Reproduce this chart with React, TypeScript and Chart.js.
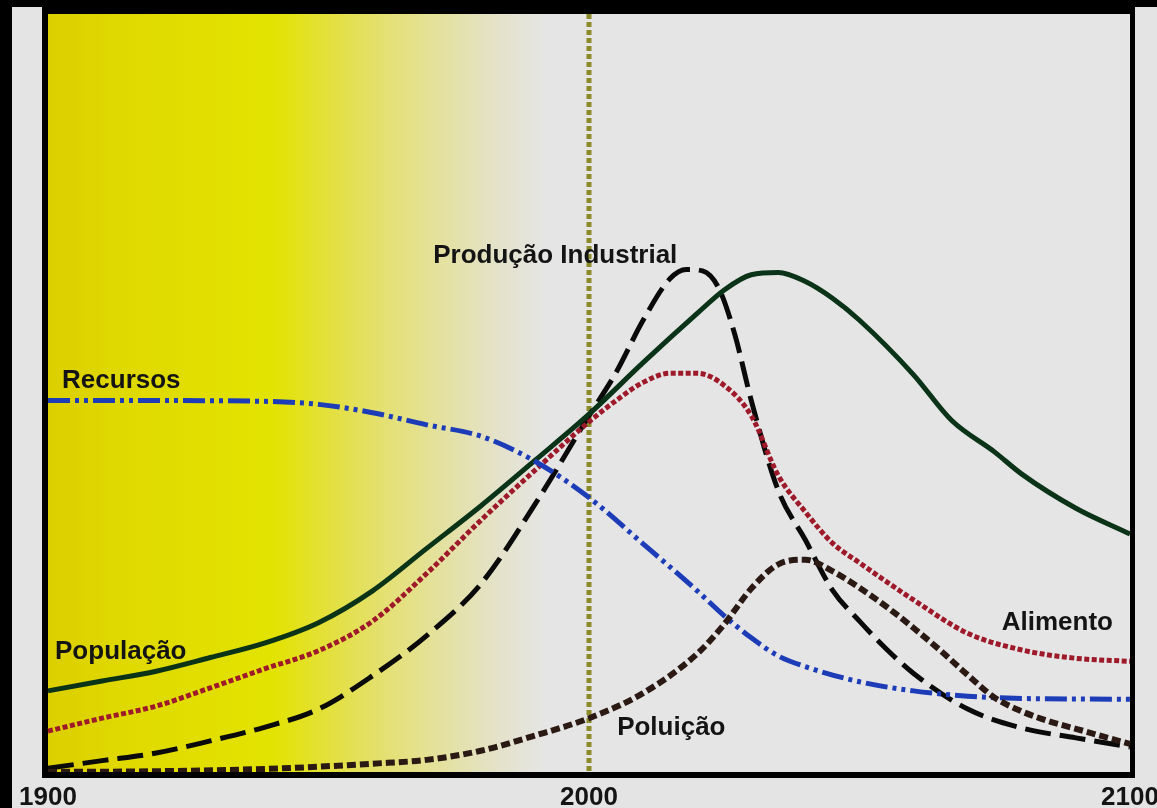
import React, { useEffect, useRef } from 'react';
import { Chart, registerables } from 'chart.js';

Chart.register(...registerables);

// ---- data ----
const tickYears = [1900, 2000, 2100];
const tickLabels = ['1900', '2000', '2100'];
const markerYear = 2000;

const populationYears = [1900, 1910, 1920, 1930, 1940, 1950, 1960, 1970, 1980, 1990, 2000, 2010, 2020, 2025, 2030, 2035, 2040, 2045, 2050, 2060, 2067, 2075, 2080, 2090, 2100];
const populationValues = [10.7, 12.0, 13.3, 15.1, 17.0, 19.7, 23.9, 29.5, 35.1, 41.1, 47.2, 54.0, 60.5, 63.6, 65.6, 65.9, 64.7, 62.5, 59.6, 52.4, 46.4, 42.2, 39.3, 34.8, 31.4];

const foodYears = [1900, 1910, 1920, 1930, 1940, 1950, 1960, 1970, 1980, 1990, 2000, 2005, 2010, 2015, 2020, 2025, 2030, 2035, 2040, 2045, 2050, 2060, 2070, 2080, 2090, 2100];
const foodValues = [5.4, 7.1, 8.7, 11.1, 13.6, 16.0, 19.9, 26.2, 33.2, 39.8, 46.2, 49.0, 51.4, 52.6, 52.6, 51.0, 47.0, 39.1, 34.3, 30.2, 27.6, 22.7, 18.3, 16.1, 15.0, 14.6];

const industryYears = [1900, 1910, 1920, 1930, 1940, 1950, 1960, 1970, 1980, 1990, 2000, 2005, 2010, 2015, 2018, 2021, 2024, 2027, 2030, 2035, 2040, 2045, 2050, 2055, 2060, 2070, 2080, 2090, 2100];
const industryValues = [0.5, 1.5, 2.5, 4.1, 5.9, 8.3, 12.7, 18.0, 24.8, 35.3, 47.0, 52.7, 59.6, 65.1, 66.3, 66.1, 63.8, 57.6, 49.0, 37.1, 30.6, 24.0, 19.9, 16.2, 13.0, 8.3, 5.8, 4.5, 3.3];

const resourceYears = [1900, 1920, 1940, 1950, 1960, 1970, 1980, 1990, 2000, 2010, 2020, 2025, 2030, 2035, 2040, 2050, 2060, 2070, 2080, 2100];
const resourceValues = [49.0, 49.0, 48.9, 48.5, 47.4, 45.8, 44.3, 41.0, 36.2, 30.1, 23.9, 20.6, 17.7, 15.3, 13.9, 11.9, 10.7, 10.0, 9.7, 9.6];

const pollutionYears = [1900, 1920, 1940, 1950, 1960, 1970, 1980, 1990, 2000, 2010, 2020, 2025, 2030, 2035, 2040, 2045, 2050, 2055, 2060, 2065, 2070, 2075, 2080, 2085, 2090, 2095, 2100];
const pollutionValues = [0.0, 0.1, 0.4, 0.7, 1.1, 1.6, 2.8, 4.8, 7.1, 10.4, 15.6, 19.5, 24.2, 27.4, 28.0, 26.5, 24.3, 21.8, 19.0, 16.0, 12.8, 9.8, 8.0, 6.7, 5.7, 4.7, 3.7];

const seriesNames = ['Recursos', 'População', 'Produção Industrial', 'Poluição', 'Alimento'];
// label anchor (year, value) for each annotation, same order as seriesNames
const noteYears = [1902.6, 1901.3, 1971.2, 2005.2, 2076.3];
const noteValues = [50.7, 14.9, 67.2, 4.9, 18.7];

const toPoints = (xs: number[], ys: number[]) => xs.map((x, i) => ({ x, y: ys[i] }));

const FONT = 'bold 26px "Liberation Sans", Arial, sans-serif';

const decorPlugin = {
  id: 'decor',
  beforeDraw(chart: any) {
    const { ctx, chartArea: a, width: W, height: H } = chart;
    const xs = chart.scales.x;
    ctx.save();
    ctx.fillStyle = '#e4e4e4';
    ctx.fillRect(0, 0, W, H);
    ctx.fillStyle = '#000';
    ctx.fillRect(0, 0, W, 7);
    ctx.fillRect(0, 0, 12, H);
    // plot background with yellow fade
    ctx.fillStyle = '#e5e5e5';
    ctx.fillRect(a.left, a.top, a.right - a.left, a.bottom - a.top);
    const gEnd = xs.getPixelForValue(1992);
    const g = ctx.createLinearGradient(a.left, 0, gEnd, 0);
    g.addColorStop(0, '#dccf00');
    g.addColorStop(0.15, '#e0d900');
    g.addColorStop(0.45, '#e3e300');
    g.addColorStop(0.57, '#e3e040');
    g.addColorStop(0.67, '#e4e070');
    g.addColorStop(0.78, '#e4e19c');
    g.addColorStop(0.9, '#e4e2c8');
    g.addColorStop(1, '#e5e5e5');
    ctx.fillStyle = g;
    ctx.fillRect(a.left, a.top, gEnd - a.left, a.bottom - a.top);
    // frame
    ctx.fillStyle = '#000';
    ctx.fillRect(a.left - 6, 7, a.right + 5 - (a.left - 6), a.top - 7);
    ctx.fillRect(a.left - 6, 7, 6, a.bottom + 6 - 7);
    ctx.fillRect(a.right, 7, 5, a.bottom + 6 - 7);
    ctx.restore();
  },
  beforeDatasetsDraw(chart: any) {
    const { ctx, chartArea: a } = chart;
    const x = chart.scales.x.getPixelForValue(markerYear);
    ctx.save();
    ctx.strokeStyle = '#8c8c2a';
    ctx.lineWidth = 5;
    ctx.setLineDash([5, 3]);
    ctx.beginPath();
    ctx.moveTo(x, a.top);
    ctx.lineTo(x, a.bottom);
    ctx.stroke();
    ctx.restore();
  },
  afterDatasetsDraw(chart: any) {
    const { ctx, chartArea: a } = chart;
    ctx.save();
    ctx.fillStyle = '#000';
    ctx.fillRect(a.left - 6, a.bottom, a.right + 5 - (a.left - 6), 6);
    ctx.restore();
  },
  afterDraw(chart: any) {
    const { ctx, chartArea: a } = chart;
    const xs = chart.scales.x;
    const ys = chart.scales.y;
    ctx.save();
    ctx.font = FONT;
    ctx.fillStyle = '#141414';
    ctx.textBaseline = 'alphabetic';
    ctx.textAlign = 'left';
    seriesNames.forEach((t, i) => {
      ctx.fillText(t, xs.getPixelForValue(noteYears[i]), ys.getPixelForValue(noteValues[i]));
    });
    ctx.textAlign = 'center';
    tickYears.forEach((yr, i) => {
      ctx.fillText(tickLabels[i], xs.getPixelForValue(yr), a.bottom + 33);
    });
    ctx.restore();
  },
};

export default function App() {
  const ref = useRef<HTMLCanvasElement | null>(null);
  useEffect(() => {
    if (!ref.current) return;
    const common = {
      pointRadius: 0,
      pointHoverRadius: 0,
      fill: false,
      cubicInterpolationMode: 'monotone' as const,
      clip: 6,
    };
    const chart = new Chart(ref.current, {
      type: 'line',
      data: {
        datasets: [
          { ...common, label: seriesNames[3], data: toPoints(pollutionYears, pollutionValues), borderColor: '#2b1a14', borderWidth: 6, borderDash: [9, 4] },
          { ...common, label: seriesNames[0], data: toPoints(resourceYears, resourceValues), borderColor: '#1c3cb8', borderWidth: 5, borderDash: [22, 5, 4, 5, 4, 5] },
          { ...common, label: seriesNames[4], data: toPoints(foodYears, foodValues), borderColor: '#9e1a2a', borderWidth: 5, borderDash: [5, 2.5] },
          { ...common, label: seriesNames[1], data: toPoints(populationYears, populationValues), borderColor: '#0b3318', borderWidth: 5 },
          { ...common, label: seriesNames[2], data: toPoints(industryYears, industryValues), borderColor: '#0a0a0a', borderWidth: 5, borderDash: [26, 9] },
        ],
      },
      options: {
        animation: false,
        responsive: false,
        devicePixelRatio: 1,
        layout: { padding: { left: 48, top: 14, right: 27, bottom: 36 } },
        plugins: { legend: { display: false }, tooltip: { enabled: false } },
        scales: {
          x: { type: 'linear', min: 1900, max: 2100, display: false },
          y: { type: 'linear', min: 0, max: 100, display: false },
        },
      },
      plugins: [decorPlugin],
    });
    return () => chart.destroy();
  }, []);
  return (
    <div style={{ position: 'fixed', left: 0, top: 0, width: 1157, height: 808, background: '#e4e4e4' }}>
      <canvas ref={ref} width={1157} height={808} style={{ display: 'block', width: 1157, height: 808 }} />
    </div>
  );
}
